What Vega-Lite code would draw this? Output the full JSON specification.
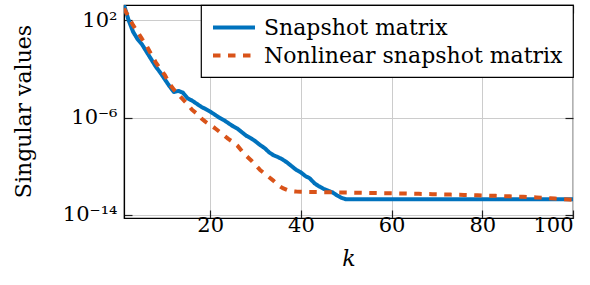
{
  "$schema": "https://vega.github.io/schema/vega-lite/v6.json",
  "width": 449,
  "height": 213,
  "autosize": "none",
  "padding": {"left": 124, "top": 5, "right": 17, "bottom": 67},
  "background": "white",
  "config": {
    "font": "DejaVu Serif",
    "view": {"stroke": "black", "strokeWidth": 1.2},
    "axis": {
      "domainColor": "black",
      "domainWidth": 1.2,
      "gridColor": "#cccccc",
      "gridWidth": 1,
      "tickColor": "#222222",
      "tickWidth": 1.2,
      "tickSize": -8,
      "labelFont": "DejaVu Serif",
      "labelFontSize": 21,
      "labelColor": "black",
      "titleFont": "DejaVu Serif",
      "titleFontSize": 22,
      "titleFontWeight": "normal",
      "titleColor": "black"
    },
    "legend": {
      "orient": "top-right",
      "offset": 0,
      "strokeColor": "black",
      "strokeWidth": 1.2,
      "fillColor": "white",
      "padding": 10,
      "symbolType": "M-1,0H3",
      "symbolSize": 441,
      "symbolStrokeWidth": 4,
      "labelFont": "DejaVu Serif",
      "labelFontSize": 22,
      "labelColor": "black",
      "labelOffset": 28,
      "labelLimit": 0,
      "rowPadding": 4
    }
  },
  "data": {
    "values": [
      {"k": 1, "snap": 1.82e3, "nonlin": 9.55e2},
      {"k": 2, "snap": 1.07e2, "nonlin": 2.0e2},
      {"k": 3, "snap": 1.15e1, "nonlin": 3.98e1},
      {"k": 4, "snap": 2.82, "nonlin": 1.12e1},
      {"k": 5, "snap": 1.0, "nonlin": 2.82},
      {"k": 6, "snap": 2.51e-1, "nonlin": 7.94e-1},
      {"k": 7, "snap": 6.31e-2, "nonlin": 1.58e-1},
      {"k": 8, "snap": 1.58e-2, "nonlin": 3.55e-2},
      {"k": 9, "snap": 5.01e-3, "nonlin": 1.0e-2},
      {"k": 10, "snap": 1.41e-3, "nonlin": 3.16e-3},
      {"k": 11, "snap": 3.98e-4, "nonlin": 6.31e-4},
      {"k": 12, "snap": 1.26e-4, "nonlin": 2.0e-4},
      {"k": 13, "snap": 1.58e-4, "nonlin": 7.94e-5},
      {"k": 14, "snap": 1.12e-4, "nonlin": 3.16e-5},
      {"k": 15, "snap": 3.98e-5, "nonlin": 1.26e-5},
      {"k": 16, "snap": 2.51e-5, "nonlin": 4.47e-6},
      {"k": 17, "snap": 1.41e-5, "nonlin": 2.24e-6},
      {"k": 18, "snap": 7.94e-6, "nonlin": 8.91e-7},
      {"k": 19, "snap": 5.01e-6, "nonlin": 4.47e-7},
      {"k": 20, "snap": 3.16e-6, "nonlin": 2.51e-7},
      {"k": 21, "snap": 1.78e-6, "nonlin": 1.41e-7},
      {"k": 22, "snap": 1.0e-6, "nonlin": 7.08e-8},
      {"k": 23, "snap": 6.31e-7, "nonlin": 3.55e-8},
      {"k": 24, "snap": 3.55e-7, "nonlin": 1.78e-8},
      {"k": 25, "snap": 2.0e-7, "nonlin": 1.0e-8},
      {"k": 26, "snap": 1.26e-7, "nonlin": 5.01e-9},
      {"k": 27, "snap": 6.31e-8, "nonlin": 1.78e-9},
      {"k": 28, "snap": 3.16e-8, "nonlin": 7.08e-10},
      {"k": 29, "snap": 2.0e-8, "nonlin": 3.16e-10},
      {"k": 30, "snap": 1.12e-8, "nonlin": 1.26e-10},
      {"k": 31, "snap": 5.62e-9, "nonlin": 5.01e-11},
      {"k": 32, "snap": 3.16e-9, "nonlin": 2.51e-11},
      {"k": 33, "snap": 1.41e-9, "nonlin": 1.26e-11},
      {"k": 34, "snap": 7.94e-10, "nonlin": 6.31e-12},
      {"k": 35, "snap": 5.62e-10, "nonlin": 2.82e-12},
      {"k": 36, "snap": 3.55e-10, "nonlin": 1.58e-12},
      {"k": 37, "snap": 2.0e-10, "nonlin": 1.12e-12},
      {"k": 38, "snap": 1.0e-10, "nonlin": 8.91e-13},
      {"k": 39, "snap": 5.01e-11, "nonlin": 8.32e-13},
      {"k": 40, "snap": 3.16e-11, "nonlin": 7.94e-13},
      {"k": 41, "snap": 1.58e-11, "nonlin": 7.8e-13},
      {"k": 42, "snap": 1.0e-11, "nonlin": 7.7e-13},
      {"k": 43, "snap": 3.98e-12, "nonlin": 7.6e-13},
      {"k": 44, "snap": 2.24e-12, "nonlin": 7.5e-13},
      {"k": 45, "snap": 1.41e-12, "nonlin": 7.4e-13},
      {"k": 46, "snap": 1.0e-12, "nonlin": 7.3e-13},
      {"k": 47, "snap": 7.08e-13, "nonlin": 7.2e-13},
      {"k": 48, "snap": 3.98e-13, "nonlin": 7.1e-13},
      {"k": 49, "snap": 2.51e-13, "nonlin": 7.0e-13},
      {"k": 50, "snap": 1.91e-13, "nonlin": 6.9e-13},
      {"k": 51, "snap": 1.91e-13, "nonlin": 6.8e-13},
      {"k": 52, "snap": 1.91e-13, "nonlin": 6.7e-13},
      {"k": 53, "snap": 1.91e-13, "nonlin": 6.6e-13},
      {"k": 54, "snap": 1.91e-13, "nonlin": 6.5e-13},
      {"k": 55, "snap": 1.91e-13, "nonlin": 6.4e-13},
      {"k": 56, "snap": 1.91e-13, "nonlin": 6.3e-13},
      {"k": 57, "snap": 1.91e-13, "nonlin": 6.2e-13},
      {"k": 58, "snap": 1.91e-13, "nonlin": 6.15e-13},
      {"k": 59, "snap": 1.91e-13, "nonlin": 6.1e-13},
      {"k": 60, "snap": 1.91e-13, "nonlin": 6.0e-13},
      {"k": 61, "snap": 1.91e-13, "nonlin": 5.9e-13},
      {"k": 62, "snap": 1.91e-13, "nonlin": 5.8e-13},
      {"k": 63, "snap": 1.91e-13, "nonlin": 5.7e-13},
      {"k": 64, "snap": 1.91e-13, "nonlin": 5.6e-13},
      {"k": 65, "snap": 1.91e-13, "nonlin": 5.5e-13},
      {"k": 66, "snap": 1.91e-13, "nonlin": 5.4e-13},
      {"k": 67, "snap": 1.91e-13, "nonlin": 5.3e-13},
      {"k": 68, "snap": 1.91e-13, "nonlin": 5.2e-13},
      {"k": 69, "snap": 1.91e-13, "nonlin": 5.1e-13},
      {"k": 70, "snap": 1.91e-13, "nonlin": 5.0e-13},
      {"k": 71, "snap": 1.91e-13, "nonlin": 4.9e-13},
      {"k": 72, "snap": 1.91e-13, "nonlin": 4.8e-13},
      {"k": 73, "snap": 1.91e-13, "nonlin": 4.7e-13},
      {"k": 74, "snap": 1.91e-13, "nonlin": 4.6e-13},
      {"k": 75, "snap": 1.91e-13, "nonlin": 4.5e-13},
      {"k": 76, "snap": 1.91e-13, "nonlin": 4.4e-13},
      {"k": 77, "snap": 1.91e-13, "nonlin": 4.3e-13},
      {"k": 78, "snap": 1.91e-13, "nonlin": 4.2e-13},
      {"k": 79, "snap": 1.91e-13, "nonlin": 4.1e-13},
      {"k": 80, "snap": 1.91e-13, "nonlin": 4.0e-13},
      {"k": 81, "snap": 1.91e-13, "nonlin": 3.9e-13},
      {"k": 82, "snap": 1.91e-13, "nonlin": 3.8e-13},
      {"k": 83, "snap": 1.91e-13, "nonlin": 3.7e-13},
      {"k": 84, "snap": 1.91e-13, "nonlin": 3.6e-13},
      {"k": 85, "snap": 1.91e-13, "nonlin": 3.5e-13},
      {"k": 86, "snap": 1.91e-13, "nonlin": 3.4e-13},
      {"k": 87, "snap": 1.91e-13, "nonlin": 3.3e-13},
      {"k": 88, "snap": 1.91e-13, "nonlin": 3.2e-13},
      {"k": 89, "snap": 1.91e-13, "nonlin": 3.1e-13},
      {"k": 90, "snap": 1.91e-13, "nonlin": 2.95e-13},
      {"k": 91, "snap": 1.91e-13, "nonlin": 2.85e-13},
      {"k": 92, "snap": 1.91e-13, "nonlin": 2.75e-13},
      {"k": 93, "snap": 1.91e-13, "nonlin": 2.65e-13},
      {"k": 94, "snap": 1.91e-13, "nonlin": 2.5e-13},
      {"k": 95, "snap": 1.91e-13, "nonlin": 2.35e-13},
      {"k": 96, "snap": 1.91e-13, "nonlin": 2.2e-13},
      {"k": 97, "snap": 1.91e-13, "nonlin": 2.05e-13},
      {"k": 98, "snap": 1.91e-13, "nonlin": 1.95e-13},
      {"k": 99, "snap": 1.91e-13, "nonlin": 1.85e-13},
      {"k": 100, "snap": 1.91e-13, "nonlin": 1.75e-13}
    ]
  },
  "transform": [
    {"fold": ["snap", "nonlin"], "as": ["series", "value"]}
  ],
  "layer": [
    {
      "mark": {"type": "line", "strokeWidth": 4, "strokeCap": "butt", "strokeJoin": "round", "clip": true},
      "encoding": {
        "x": {
          "field": "k", "type": "quantitative",
          "scale": {"domain": [1, 100], "nice": false, "zero": false},
          "axis": {"orient": "bottom", "values": [20, 40, 60, 80, 100], "grid": true, "title": "k", "titleFontStyle": "italic", "labelPadding": 4, "titlePadding": 13}
        },
        "y": {
          "field": "value", "type": "quantitative",
          "scale": {"type": "log", "domain": [5.6e-15, 1.82e3], "nice": false},
          "axis": {"orient": "left", "values": [1e2, 1e-6, 1e-14], "grid": true, "title": "Singular values", "labelPadding": 15, "titleX": -89, "titleY": 106,
            "labelExpr": "round(log(datum.value)/LN10) == 2 ? '10²' : (round(log(datum.value)/LN10) == -6 ? '10⁻⁶' : '10⁻¹⁴')"}
        },
        "color": {
          "field": "series", "type": "nominal",
          "scale": {"domain": ["snap", "nonlin"], "range": ["#0072BD", "#D95319"]},
          "legend": {"title": null, "labelExpr": "datum.label == 'snap' ? 'Snapshot matrix' : 'Nonlinear snapshot matrix'"}
        },
        "strokeDash": {
          "field": "series", "type": "nominal",
          "scale": {"domain": ["snap", "nonlin"], "range": [[1, 0], [7.5, 7.5]]},
          "legend": {"title": null, "labelExpr": "datum.label == 'snap' ? 'Snapshot matrix' : 'Nonlinear snapshot matrix'"}
        },
        "order": {"field": "k", "type": "quantitative"}
      }
    },
    {
      "mark": {"type": "point", "opacity": 0},
      "encoding": {
        "x": {
          "field": "k", "type": "quantitative",
          "axis": {"orient": "top", "values": [20, 40, 60, 80, 100], "grid": false, "labels": false, "title": null, "domain": false}
        },
        "y": {
          "field": "value", "type": "quantitative",
          "axis": {"orient": "right", "values": [1e2, 1e-6, 1e-14], "grid": false, "labels": false, "title": null, "domain": false}
        }
      }
    }
  ],
  "resolve": {"axis": {"x": "independent", "y": "independent"}}
}
